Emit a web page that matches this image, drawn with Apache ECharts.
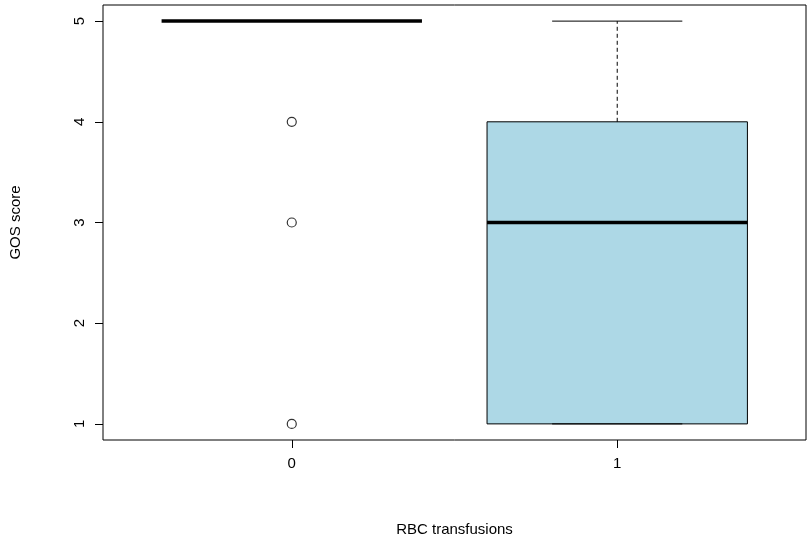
<!DOCTYPE html>
<html><head><meta charset="utf-8">
<script src="https://cdn.jsdelivr.net/npm/echarts@6/dist/echarts.min.js"></script>
<style>html,body{margin:0;padding:0;background:#fff}#c{width:810px;height:545px}</style>
</head><body><div id="c"></div>
<script>
const categories = ['0', '1'];
const boxMin = [5, 1];
const boxQ1 = [5, 1];
const boxMedian = [5, 3];
const boxQ3 = [5, 4];
const boxMax = [5, 5];
const outlierGroup = [1, 1, 1];
const outlierValue = [4, 3, 1];
const yTicks = [1, 2, 3, 4, 5];

const boxData = categories.map((c, i) => [i + 1, boxMin[i], boxQ1[i], boxMedian[i], boxQ3[i], boxMax[i]]);
const outData = outlierGroup.map((g, i) => [g, outlierValue[i]]);
const font = 'Liberation Sans, Arial, sans-serif';
const chart = echarts.init(document.getElementById('c'));
chart.setOption({
  animation: false,
  grid: {left: 101, right: 4, top: 5, bottom: 105, show: true, borderColor: '#000', borderWidth: 1, backgroundColor: 'transparent'},
  xAxis: {
    type: 'value', min: 0.42, max: 2.58,
    name: 'RBC transfusions', nameLocation: 'middle', nameGap: 82,
    nameTextStyle: {color: '#000', fontSize: 15, fontFamily: font},
    axisLine: {show: false}, splitLine: {show: false},
    axisTick: {show: true, customValues: [1, 2], length: 8, lineStyle: {color: '#000'}},
    axisLabel: {customValues: [1, 2], formatter: v => categories[Math.round(v) - 1], color: '#000', fontSize: 15, fontFamily: font, margin: 16}
  },
  yAxis: {
    type: 'value', min: 0.84, max: 5.16,
    name: 'GOS score', nameLocation: 'middle', nameGap: 80,
    nameTextStyle: {color: '#000', fontSize: 15, fontFamily: font},
    axisLine: {show: false}, splitLine: {show: false},
    axisTick: {show: true, customValues: yTicks, length: 8, lineStyle: {color: '#000'}},
    axisLabel: {customValues: yTicks, rotate: 90, color: '#000', fontSize: 15, fontFamily: font, margin: 16}
  },
  series: [
    {
      type: 'custom',
      data: boxData,
      renderItem: function (params, api) {
        const x = api.value(0);
        const p = k => api.coord([x, api.value(k)]);
        const xl = api.coord([x - 0.4, 0])[0], xr = api.coord([x + 0.4, 0])[0];
        const sl = api.coord([x - 0.2, 0])[0], sr = api.coord([x + 0.2, 0])[0];
        const cx = p(1)[0];
        const yMin = p(1)[1], yQ1 = p(2)[1], yMed = p(3)[1], yQ3 = p(4)[1], yMax = p(5)[1];
        const st = {stroke: '#000', lineWidth: 1};
        const children = [];
        if (yQ1 !== yQ3) {
          children.push({type: 'rect', shape: {x: xl, y: yQ3, width: xr - xl, height: yQ1 - yQ3}, style: {fill: '#add8e6', stroke: '#000', lineWidth: 1}});
          children.push({type: 'line', shape: {x1: cx, y1: yQ3, x2: cx, y2: yMax}, style: {stroke: '#000', lineWidth: 1, lineDash: [4, 3]}});
          children.push({type: 'line', shape: {x1: cx, y1: yQ1, x2: cx, y2: yMin}, style: {stroke: '#000', lineWidth: 1, lineDash: [4, 3]}});
          children.push({type: 'line', shape: {x1: sl, y1: yMax, x2: sr, y2: yMax}, style: st});
          children.push({type: 'line', shape: {x1: sl, y1: yMin, x2: sr, y2: yMin}, style: st});
        }
        children.push({type: 'line', shape: {x1: xl, y1: yMed, x2: xr, y2: yMed}, style: {stroke: '#000', lineWidth: 3.5}});
        return {type: 'group', children};
      }
    },
    {
      type: 'scatter', data: outData, symbol: 'circle', symbolSize: 9,
      itemStyle: {color: 'transparent', borderColor: '#000', borderWidth: 1.2}
    }
  ]
});
</script></body></html>
